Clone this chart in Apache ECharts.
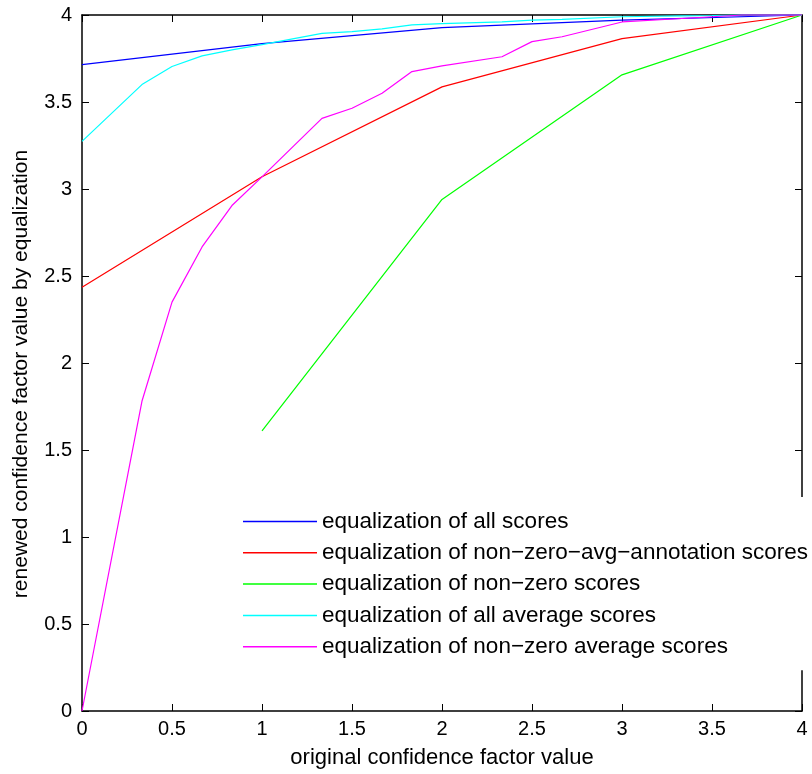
<!DOCTYPE html>
<html>
<head>
<meta charset="utf-8">
<script src="https://cdn.jsdelivr.net/npm/echarts@6/dist/echarts.min.js"></script>
<style>html,body{margin:0;padding:0;background:#fff;}#c{width:812px;height:774px;}</style>
</head>
<body>
<div id="c"></div>
<script>
const seriesNames = [
  'equalization of all scores',
  'equalization of non\u2212zero\u2212avg\u2212annotation scores',
  'equalization of non\u2212zero scores',
  'equalization of all average scores',
  'equalization of non\u2212zero average scores'
];
const seriesColors = ['#0000ff', '#ff0000', '#00ff00', '#00ffff', '#ff00ff'];

const allX = [0, 1, 2, 3, 4];
const allY = [3.715, 3.835, 3.927, 3.97, 4.0];

const nzAvgAnnX = [0, 1, 2, 3, 4];
const nzAvgAnnY = [2.435, 3.07, 3.587, 3.864, 4.0];

const nzX = [1, 2, 3, 4];
const nzY = [1.61, 2.94, 3.656, 4.0];

const allAvgX = [0, 0.333, 0.5, 0.667, 0.833, 1, 1.333, 1.5, 1.667, 1.833, 2, 2.333, 2.5, 2.667, 3, 3.333, 3.5, 3.667, 4];
const allAvgY = [3.274, 3.6, 3.704, 3.765, 3.80, 3.83, 3.894, 3.905, 3.92, 3.943, 3.95, 3.96, 3.97, 3.975, 3.99, 3.995, 3.997, 4.0, 4.0];

const nzAvgX = [0, 0.333, 0.5, 0.667, 0.833, 1, 1.333, 1.5, 1.667, 1.833, 2, 2.333, 2.5, 2.667, 3, 3.333, 3.5, 3.667, 4];
const nzAvgY = [0, 1.78, 2.35, 2.667, 2.905, 3.07, 3.406, 3.464, 3.55, 3.675, 3.708, 3.76, 3.847, 3.875, 3.96, 3.98, 3.99, 4.0, 4.0];

const xTitle = 'original confidence factor value';
const yTitle = 'renewed confidence factor value by equalization';

const xs = [allX, nzAvgAnnX, nzX, allAvgX, nzAvgX];
const ys = [allY, nzAvgAnnY, nzY, allAvgY, nzAvgY];

const FONT = "'Liberation Sans', Arial, Helvetica, sans-serif";
const chart = echarts.init(document.getElementById('c'), null, {renderer: 'canvas'});

const axisLine = {show: true, onZero: false, lineStyle: {color: '#000', width: 1.5}};
const tick = {show: true, inside: true, length: 7, lineStyle: {color: '#000', width: 1}};

chart.setOption({
  animation: false,
  backgroundColor: '#fff',
  textStyle: {fontFamily: FONT},
  grid: {left: 82, right: 10, top: 15, bottom: 61, containLabel: false},
  xAxis: [
    {type: 'value', min: 0, max: 4, interval: 0.5, position: 'bottom',
     axisLine: axisLine, axisTick: tick, splitLine: {show: false},
     axisLabel: {color: '#000', fontSize: 20, fontFamily: FONT, margin: 8},
     name: xTitle, nameLocation: 'middle', nameGap: 36,
     nameTextStyle: {color: '#000', fontSize: 22, fontFamily: FONT}},
    {type: 'value', min: 0, max: 4, interval: 0.5, position: 'top',
     axisLine: axisLine, axisTick: tick, splitLine: {show: false}, axisLabel: {show: false}}
  ],
  yAxis: [
    {type: 'value', min: 0, max: 4, interval: 0.5, position: 'left',
     axisLine: axisLine, axisTick: tick, splitLine: {show: false},
     axisLabel: {color: '#000', fontSize: 20, fontFamily: FONT, margin: 10},
     name: yTitle, nameLocation: 'middle', nameGap: 50, nameRotate: 90,
     nameTextStyle: {color: '#000', fontSize: 21, fontFamily: FONT, padding: [0, 22, 0, 0]}},
    {type: 'value', min: 0, max: 4, interval: 0.5, position: 'right',
     axisLine: axisLine, axisTick: tick, splitLine: {show: false}, axisLabel: {show: false}}
  ],
  legend: {
    data: seriesNames,
    orient: 'vertical',
    left: 234, top: 497,
    padding: [13, 30, 12, 9],
    backgroundColor: '#fff',
    borderWidth: 0,
    icon: 'rect',
    itemWidth: 74, itemHeight: 1.5,
    itemGap: 8.3,
    textStyle: {color: '#000', fontSize: 22.5, fontFamily: FONT, lineHeight: 22},
    selectedMode: false
  },
  series: seriesNames.map((n, i) => ({
    name: n,
    type: 'line',
    xAxisIndex: 0, yAxisIndex: 0,
    data: xs[i].map((x, j) => [x, ys[i][j]]),
    showSymbol: false, symbol: 'none',
    clip: false,
    color: seriesColors[i],
    lineStyle: {color: seriesColors[i], width: 1.2},
    emphasis: {disabled: true}
  }))
});
</script>
</body>
</html>
